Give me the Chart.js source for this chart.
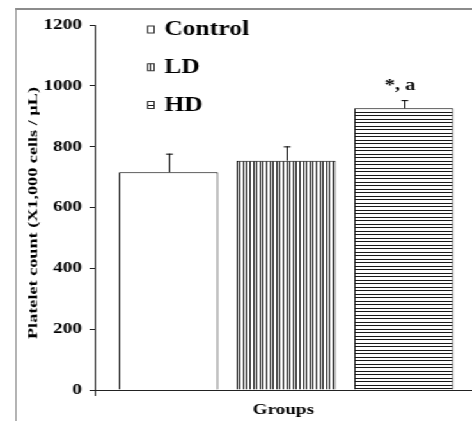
<!DOCTYPE html>
<html>
<head>
<meta charset="utf-8">
<script src="https://cdn.jsdelivr.net/npm/chart.js@4.4.1/dist/chart.umd.min.js"></script>
<style>
  html, body { margin: 0; padding: 0; background: #fff; overflow: hidden; }
  /* the source picture is stretched sideways, so the whole chart is drawn narrow and widened */
  #stage { position: relative; width: 369px; height: 421px; transform: scaleX(1.2791); transform-origin: 0 0; }
  #frame { position: absolute; left: 12px; top: 8px; width: 500px; height: 500px;
           border-left: 1.5px solid #8c8c8c; border-top: 2px solid #8c8c8c; }
  #chartBox { position: absolute; left: 0; top: 0; width: 369px; height: 421px; }
</style>
</head>
<body>
<div id="stage">
  <div id="frame"></div>
  <div id="chartBox"><canvas id="plateletChart"></canvas></div>
</div>
<script>
const categories = ['Control', 'LD', 'HD'];
const plateletMeans = [716, 754, 926];
const plateletErrors = [61, 47, 27];
const significance = ['', '', '*, a'];
const yTicks = [0, 200, 400, 600, 800, 1000, 1200];
const yTitle = 'Platelet count (X1,000 cells / µL)';
const xTitle = 'Groups';

const serif = "'Liberation Serif', 'Times New Roman', serif";

// striped fills for LD (vertical) and HD (horizontal)
function makeStripes(vertical) {
  const c = document.createElement('canvas');
  const g = c.getContext('2d');
  if (vertical) {
    c.width = 13; c.height = 4;
    g.fillStyle = '#fff'; g.fillRect(0, 0, 13, 4);
    g.fillStyle = '#1a1a1a';
    [0, 3, 5, 8, 10].forEach(x => g.fillRect(x, 0, 1, 4));
  } else {
    c.width = 4; c.height = 7;
    g.fillStyle = '#fff'; g.fillRect(0, 0, 4, 7);
    g.fillStyle = '#1a1a1a';
    [0, 3].forEach(y => g.fillRect(0, y, 4, 1));
  }
  return g.createPattern(c, 'repeat');
}

const fills = ['#ffffff', makeStripes(true), makeStripes(false)];

// error bars + significance letters
const errorBarPlugin = {
  id: 'errorBars',
  afterDatasetsDraw(chart) {
    const { ctx, scales: { y } } = chart;
    const meta = chart.getDatasetMeta(0);
    ctx.save();
    ctx.strokeStyle = '#000';
    ctx.lineWidth = 1;
    meta.data.forEach((bar, i) => {
      const top = y.getPixelForValue(plateletMeans[i] + plateletErrors[i]);
      const x = Math.round(bar.x) + 0.5;
      ctx.beginPath();
      ctx.moveTo(x, bar.y);
      ctx.lineTo(x, top);
      ctx.moveTo(x - 2.7, top + 0.5);
      ctx.lineTo(x + 2.7, top + 0.5);
      ctx.stroke();
      if (significance[i]) {
        ctx.font = 'bold 16px ' + serif;
        ctx.fillStyle = '#000';
        ctx.textAlign = 'center';
        ctx.textBaseline = 'alphabetic';
        ctx.fillText(significance[i], bar.x - 3, top - 10);
      }
    });
    ctx.restore();
  }
};

// rotated y title, drawn long and thin like the original
const yTitlePlugin = {
  id: 'yTitle',
  afterDraw(chart) {
    const ctx = chart.ctx;
    const { top, bottom } = chart.chartArea;
    ctx.save();
    ctx.font = 'bold 11px ' + serif;
    const w = ctx.measureText(yTitle).width;
    ctx.translate(25.8, (top + bottom) / 2 + 5.5);
    ctx.rotate(-Math.PI / 2);
    ctx.scale(252 / w, 1);
    ctx.fillStyle = '#000';
    ctx.textAlign = 'center';
    ctx.textBaseline = 'middle';
    ctx.fillText(yTitle, 0, 0);
    ctx.restore();
  }
};

// legend inside the plot, top left
const legendPlugin = {
  id: 'groupLegend',
  afterDraw(chart) {
    const ctx = chart.ctx;
    const ds = chart.data.datasets[0];
    ctx.save();
    ctx.font = 'bold 20px ' + serif;
    ctx.textBaseline = 'alphabetic';
    ctx.textAlign = 'left';
    categories.forEach((name, i) => {
      const base = 35 + i * 37.75;
      ctx.fillStyle = ds.backgroundColor[i];
      ctx.fillRect(115.5, base - 9, 5, 7);
      ctx.strokeStyle = '#333';
      ctx.lineWidth = 1;
      ctx.strokeRect(115.5, base - 9, 5, 7);
      ctx.fillStyle = '#000';
      ctx.fillText(name, 128.4, base);
    });
    ctx.restore();
  }
};

new Chart(document.getElementById('plateletChart'), {
  type: 'bar',
  data: {
    datasets: [{
      label: 'Platelet count',
      data: categories.map((c, i) => ({ x: i, y: plateletMeans[i] })),
      backgroundColor: fills,
      borderColor: '#000',
      borderWidth: 1,
      categoryPercentage: 1,
      barPercentage: 0.8425
    }]
  },
  options: {
    responsive: true,
    maintainAspectRatio: false,
    animation: false,
    layout: { padding: { top: 25, left: 0, right: 0, bottom: 0 } },
    plugins: {
      legend: { display: false },
      tooltip: { enabled: false }
    },
    scales: {
      x: {
        type: 'linear',
        offset: false,
        min: -0.628,
        max: 2.58,
        afterBuildTicks: s => { s.ticks = [{ value: s.min }]; },
        afterFit: s => { s.height = 31; },
        ticks: { display: false },
        grid: { offset: false, drawOnChartArea: false, drawTicks: true, tickLength: 6, color: '#222' },
        border: { color: '#222', width: 1 },
        title: {
          display: true,
          text: xTitle,
          color: '#000',
          font: { family: serif, size: 15, weight: 'bold' },
          padding: { top: 0, bottom: 2 }
        }
      },
      y: {
        min: 0,
        max: 1200,
        afterBuildTicks: s => { s.ticks = yTicks.map(v => ({ value: v })); },
        afterFit: s => { s.width = 74; },
        ticks: {
          color: '#000',
          padding: 6,
          font: { family: serif, size: 15, weight: 'bold' },
          callback: v => String(v)
        },
        grid: { drawOnChartArea: false, drawTicks: true, tickLength: 4, color: '#222' },
        border: { color: '#222', width: 1 }
      }
    }
  },
  plugins: [errorBarPlugin, yTitlePlugin, legendPlugin]
});
</script>
</body>
</html>
